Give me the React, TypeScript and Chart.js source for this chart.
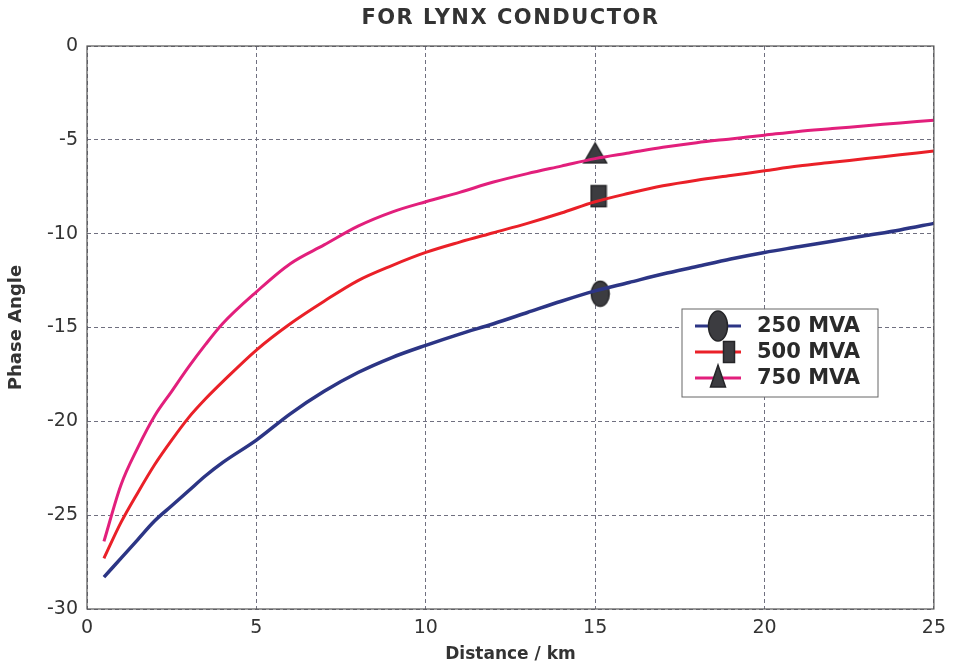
import React, { useEffect, useRef } from 'react';
import { Chart, registerables } from 'chart.js';

Chart.register(...registerables);

// ---- Data ----
const distanceKm = [0.5, 1, 1.5, 2, 2.5, 3, 3.5, 4, 5, 6, 7, 8, 9, 10, 11, 12, 13, 14, 15, 16, 17, 18, 19, 20, 21, 22, 23, 24, 25];
const mva250 = [-28.3, -27.3, -26.3, -25.3, -24.5, -23.7, -22.9, -22.2, -21.0, -19.6, -18.4, -17.4, -16.6, -15.95, -15.35, -14.8, -14.2, -13.6, -13.05, -12.6, -12.15, -11.75, -11.35, -11.0, -10.7, -10.4, -10.1, -9.8, -9.45];
const mva500 = [-27.3, -25.4, -23.8, -22.3, -21.0, -19.8, -18.8, -17.9, -16.2, -14.8, -13.6, -12.5, -11.7, -11.0, -10.45, -9.95, -9.45, -8.9, -8.3, -7.85, -7.45, -7.15, -6.9, -6.65, -6.4, -6.2, -6.0, -5.8, -5.6];
const mva750 = [-26.4, -23.4, -21.4, -19.7, -18.4, -17.1, -15.9, -14.8, -13.1, -11.6, -10.6, -9.6, -8.85, -8.3, -7.8, -7.25, -6.8, -6.4, -6.0, -5.7, -5.4, -5.15, -4.95, -4.75, -4.55, -4.4, -4.25, -4.1, -3.95];
const seriesLabels = ['250 MVA', '500 MVA', '750 MVA'];
const markerX = [15.15, 15.1, 15.0];
const markerY = [-13.2, -8.0, -5.7];
const xMin = 0, xMax = 25, xStep = 5;
const yMin = -30, yMax = 0, yStep = 5;
const chartTitle = 'FOR LYNX CONDUCTOR';
const xTitle = 'Distance / km';
const yTitle = 'Phase Angle';

const FONT = "'DejaVu Sans', 'Liberation Sans', sans-serif";
const colors = ['#2c3585', '#ea2028', '#e21f7c'];
const kinds = ['ellipse', 'rect', 'triangle'];

function drawShape(g: CanvasRenderingContext2D, kind: string, cx: number, cy: number, w: number, h: number) {
  g.save();
  g.fillStyle = '#3c3c40';
  g.strokeStyle = '#252528';
  g.lineWidth = 1.5;
  g.beginPath();
  if (kind === 'ellipse') g.ellipse(cx, cy, w / 2, h / 2, 0, 0, Math.PI * 2);
  else if (kind === 'rect') g.rect(cx - w / 2, cy - h / 2, w, h);
  else {
    g.moveTo(cx, cy - h / 2);
    g.lineTo(cx + w / 2, cy + h / 2);
    g.lineTo(cx - w / 2, cy + h / 2);
    g.closePath();
  }
  g.fill();
  g.stroke();
  g.restore();
}

function makeMarker(kind: string, w: number, h: number) {
  const c = document.createElement('canvas');
  c.width = w + 3;
  c.height = h + 3;
  const g = c.getContext('2d')!;
  drawShape(g, kind, c.width / 2, c.height / 2, w, h);
  return c;
}

export default function App() {
  const ref = useRef<HTMLCanvasElement>(null);

  useEffect(() => {
    const canvas = ref.current!;
    const markerImgs = [makeMarker('ellipse', 18, 25), makeMarker('rect', 15, 21), makeMarker('triangle', 23, 20)];
    const series = [mva250, mva500, mva750];

    const lineSets: any[] = series.map((arr, i) => ({
      label: seriesLabels[i],
      data: distanceKm.map((x, j) => ({ x, y: arr[j] })),
      borderColor: colors[i],
      backgroundColor: colors[i],
      borderWidth: i === 0 ? 3.5 : 3,
      pointRadius: 0,
      cubicInterpolationMode: 'monotone',
      fill: false,
    }));
    const markerSets: any[] = markerY.map((y, i) => ({
      label: seriesLabels[i] + ' marker',
      data: [{ x: markerX[i], y }],
      showLine: false,
      pointStyle: markerImgs[i],
      pointRadius: 12,
      borderColor: colors[i],
      backgroundColor: colors[i],
    }));

    const framePlugin = {
      id: 'frame',
      afterDatasetsDraw(chart: any) {
        const { ctx, chartArea: a } = chart;
        ctx.save();
        ctx.strokeStyle = '#555';
        ctx.lineWidth = 1.2;
        ctx.strokeRect(a.left, a.top, a.right - a.left, a.bottom - a.top);
        ctx.restore();
      },
      afterDraw(chart: any) {
        const { ctx, chartArea: a } = chart;
        // title
        ctx.save();
        ctx.fillStyle = '#333';
        ctx.font = `bold 21px ${FONT}`;
        (ctx as any).letterSpacing = '1.5px';
        ctx.textAlign = 'center';
        ctx.textBaseline = 'middle';
        ctx.fillText(chartTitle, (a.left + a.right) / 2, 19);
        ctx.restore();

        // legend
        const bx = 682, by = 309, bw = 196, bh = 88;
        ctx.save();
        ctx.fillStyle = '#fff';
        ctx.fillRect(bx, by, bw, bh);
        ctx.strokeStyle = '#666';
        ctx.lineWidth = 1;
        ctx.strokeRect(bx, by, bw, bh);
        const rows = [326, 352, 378];
        const legendMarkers = [
          { dx: 0, w: 19, h: 30 },
          { dx: 11, w: 11, h: 21 },
          { dx: 0, w: 15, h: 22 },
        ];
        seriesLabels.forEach((lab, i) => {
          const y = rows[i];
          ctx.strokeStyle = colors[i];
          ctx.lineWidth = 3;
          ctx.beginPath();
          ctx.moveTo(695, y);
          ctx.lineTo(741, y);
          ctx.stroke();
          const m = legendMarkers[i];
          drawShape(ctx, kinds[i], 718 + m.dx, y + (i === 2 ? -2 : 0), m.w, m.h);
          ctx.fillStyle = '#2a2a2a';
          ctx.font = `bold 21px ${FONT}`;
          ctx.textAlign = 'left';
          ctx.textBaseline = 'middle';
          ctx.fillText(lab, 757, y + 1);
        });
        ctx.restore();
      },
    };

    const chart = new Chart(canvas, {
      type: 'line',
      data: { datasets: [...lineSets, ...markerSets] },
      options: {
        animation: false,
        responsive: false,
        layout: { padding: { top: 46, right: 20, bottom: 0, left: 0 } },
        plugins: {
          legend: { display: false },
          title: { display: false },
          tooltip: { enabled: false },
        },
        scales: {
          x: {
            type: 'linear',
            min: xMin,
            max: xMax,
            ticks: { stepSize: xStep, color: '#333', font: { family: FONT, size: 19 }, padding: 8, maxRotation: 0 },
            grid: { color: '#707080', lineWidth: 1, drawTicks: false },
            border: { display: false, dash: [4, 3] },
            title: { display: true, text: xTitle, color: '#333', font: { family: FONT, size: 17, weight: 'bold' }, padding: { top: 0, bottom: 2 } },
            afterFit(scale: any) { scale.height = 58; },
          },
          y: {
            type: 'linear',
            min: yMin,
            max: yMax,
            ticks: { stepSize: yStep, color: '#333', font: { family: FONT, size: 19 }, padding: 9 },
            grid: { color: '#707080', lineWidth: 1, drawTicks: false },
            border: { display: false, dash: [4, 3] },
            title: { display: true, text: yTitle, color: '#333', font: { family: FONT, size: 18, weight: 'bold' }, padding: { top: 6, bottom: 0 } },
            afterFit(scale: any) { scale.width = 87; },
          },
        },
      } as any,
      plugins: [framePlugin],
    });
    return () => chart.destroy();
  }, []);

  return (
    <div style={{ position: 'fixed', left: 0, top: 0, width: 954, height: 667, background: '#fff' }}>
      <canvas ref={ref} width={954} height={667} style={{ display: 'block' }} />
    </div>
  );
}
